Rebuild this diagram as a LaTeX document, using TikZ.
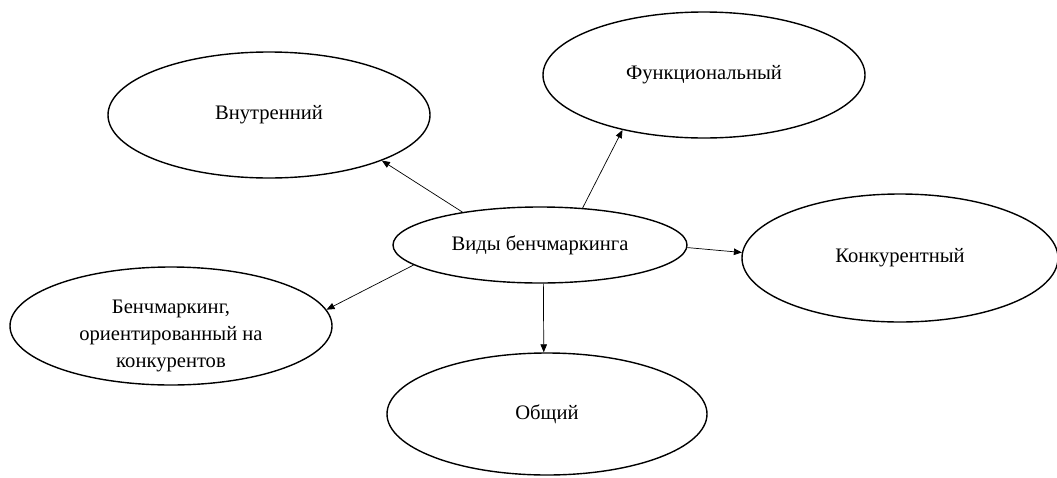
\documentclass[tikz,border=0pt]{standalone}
\usepackage{fontspec}
\setmainfont{Liberation Serif}
\usetikzlibrary{shapes.geometric,arrows.meta}
\begin{document}
\begin{tikzpicture}[x=1pt,y=-1pt,
  txt/.style={font=\fontsize{20.6}{27}\selectfont},
  oval/.style={ellipse,draw,line width=1.4pt,inner sep=0pt,align=center,txt},
  conn/.style={line width=0.7pt,-{Triangle[length=8pt,width=6.5pt]}}]
\useasboundingbox (0,0) rectangle (1057,477);
\node[oval,minimum width=294pt,minimum height=76pt] (c) at (540,245) {Виды бенчмаркинга};
\node[oval,minimum width=322pt,minimum height=126pt] (in) at (269,115) {Внутренний};
\node[oval,minimum width=322pt,minimum height=126pt] (fu) at (704,75) {Функциональный};
\node[oval,minimum width=316pt,minimum height=128pt] (ko) at (900,258) {Конкурентный};
\node[oval,minimum width=322pt,minimum height=118pt,
  label={[align=center,txt,yshift=-10pt]center:Бенчмаркинг,\\ориентированный на\\конкурентов}] (be) at (171,326) {};
\node[oval,minimum width=320pt,minimum height=122pt] (ob) at (547,414) {Общий};
\draw[conn] (c.157.5) -- (in.-22);
\draw[conn] (c.41.4) -- (fu.214.6);
\draw[conn] (c.-1) -- (ko.178.9);
\draw[conn] (c.189) -- (be.6.6);
\draw[conn] (c.-85.5) -- (ob.93.7);
\end{tikzpicture}
\end{document}
